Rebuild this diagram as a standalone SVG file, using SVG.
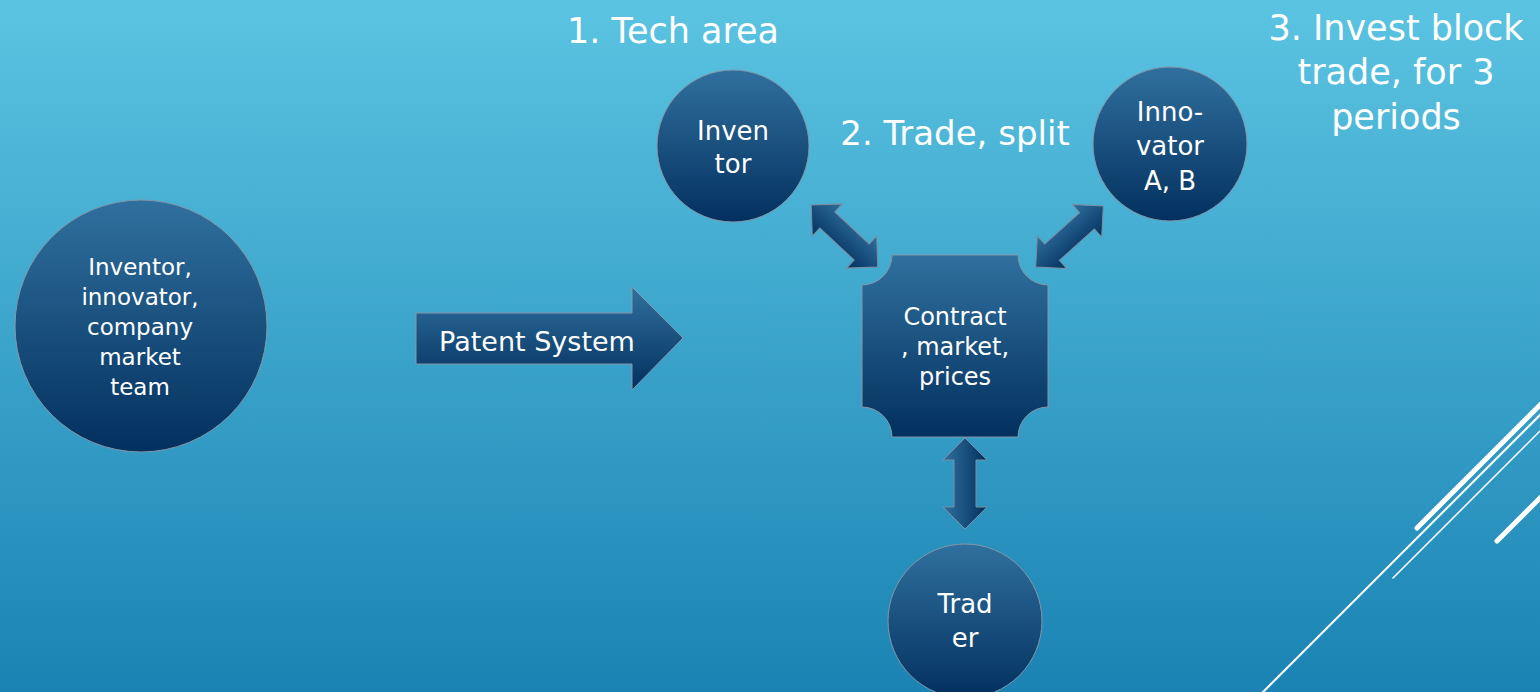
<svg xmlns="http://www.w3.org/2000/svg" width="1540" height="692" viewBox="0 0 1540 692">
  <defs>
    <linearGradient id="bg" x1="0" y1="0" x2="0" y2="1">
      <stop offset="0" stop-color="#5BC4E2"/>
      <stop offset="1" stop-color="#1B83B3"/>
    </linearGradient>
    <linearGradient id="node" x1="0" y1="0" x2="0" y2="1">
      <stop offset="0" stop-color="#30709E"/>
      <stop offset="1" stop-color="#03305E"/>
    </linearGradient>
    <path id="dbl" d="M-45.5,0 L-23.5,-22 L-23.5,-11 L23.5,-11 L23.5,-22 L45.5,0 L23.5,22 L23.5,11 L-23.5,11 L-23.5,22 Z"/>
    <style>
      .nd { fill: url(#node); stroke: #8497A8; stroke-width: 1; }
      .ar { fill: url(#node); stroke: #7D8FA0; stroke-width: 1; }
      .t { fill: #FFFFFF; font-family: "DejaVu Sans", "Liberation Sans", sans-serif; text-anchor: middle; }
      .big { font-size: 23px; }
      .mid { font-size: 26px; }
      .ct { font-size: 24px; }
      .ttl { font-size: 35px; }
      .deco { stroke: #FFFFFF; fill: none; stroke-linecap: round; }
    </style>
  </defs>

  <rect x="0" y="0" width="1540" height="692" fill="url(#bg)"/>

  <g id="decoration">
    <line class="deco" x1="1417" y1="528" x2="1546" y2="399" stroke-width="5"/>
    <line class="deco" x1="1258" y1="697" x2="1546" y2="409" stroke-width="2"/>
    <line class="deco" x1="1393" y1="578" x2="1546" y2="425" stroke-width="1.5" stroke-linecap="butt"/>
    <line class="deco" x1="1497" y1="541" x2="1546" y2="492" stroke-width="5"/>
  </g>

  <g id="labels">
    <text class="t ttl" x="673" y="43">1. Tech area</text>
    <text class="t" x="955" y="145" font-size="34">2. Trade, split</text>
    <text class="t ttl" x="1396" y="40">3. Invest block</text>
    <text class="t ttl" x="1396" y="84">trade, for 3</text>
    <text class="t ttl" x="1396" y="129">periods</text>
  </g>

  <g id="connectors">
    <use href="#dbl" class="ar" transform="translate(844.5,236) rotate(43)"/>
    <use href="#dbl" class="ar" transform="translate(1069.5,236.5) rotate(-42)"/>
    <use href="#dbl" class="ar" transform="translate(965,483.5) rotate(-90)"/>
  </g>

  <g id="team">
    <circle class="nd" cx="141" cy="326" r="126"/>
    <text class="t big" x="140" y="275">Inventor,</text>
    <text class="t big" x="140" y="305">innovator,</text>
    <text class="t big" x="140" y="335">company</text>
    <text class="t big" x="140" y="365">market</text>
    <text class="t big" x="140" y="395">team</text>
  </g>

  <g id="patent-system">
    <path class="nd" d="M416,313 L632,313 L632,287 L683,338 L632,390 L632,364 L416,364 Z"/>
    <text class="t" x="537" y="351" font-size="27">Patent System</text>
  </g>

  <g id="inventor">
    <circle class="nd" cx="733" cy="146" r="76"/>
    <text class="t mid" x="733" y="140">Inven</text>
    <text class="t mid" x="733" y="173">tor</text>
  </g>

  <g id="innovator">
    <circle class="nd" cx="1170" cy="144" r="77"/>
    <text class="t mid" x="1170" y="121">Inno-</text>
    <text class="t mid" x="1170" y="155">vator</text>
    <text class="t mid" x="1170" y="190">A, B</text>
  </g>

  <g id="contract">
    <path class="nd" d="M892,255 H1018 A30,30 0 0 0 1048,285 V407 A30,30 0 0 0 1018,437 H892 A30,30 0 0 0 862,407 V285 A30,30 0 0 0 892,255 Z"/>
    <text class="t ct" x="955" y="325">Contract</text>
    <text class="t ct" x="955" y="355">, market,</text>
    <text class="t ct" x="955" y="385">prices</text>
  </g>

  <g id="trader">
    <circle class="nd" cx="965" cy="621" r="77"/>
    <text class="t mid" x="965" y="613">Trad</text>
    <text class="t mid" x="965" y="647">er</text>
  </g>
</svg>
